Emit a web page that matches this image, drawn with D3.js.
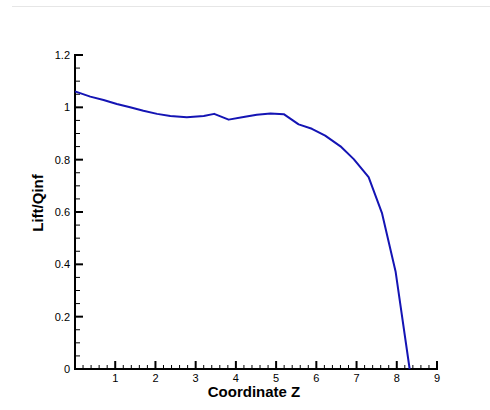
<!DOCTYPE html>
<html>
<head>
<meta charset="utf-8">
<script src="https://cdn.jsdelivr.net/npm/d3@7"></script>
<style>
    body { margin: 0; background: #fff; }
    svg { display: block; font-family: "Liberation Sans", Arial, sans-serif; }
</style>
</head>
<body>
<svg id="canvas" width="490" height="410"></svg>
<script>

// Spanwise lift distribution
const coordZ = [0, 0.38, 0.71, 1.04, 1.37, 1.70, 2.04, 2.37, 2.78, 3.20, 3.46, 3.82, 4.19,
                4.52, 4.86, 5.19, 5.56, 5.89, 6.22, 6.60, 6.93, 7.30, 7.63, 7.97, 8.32];
const liftQinf = [1.061, 1.041, 1.028, 1.013, 1.000, 0.987, 0.975, 0.967, 0.962, 0.967, 0.975, 0.953, 0.963,
                  0.972, 0.976, 0.974, 0.935, 0.918, 0.892, 0.851, 0.802, 0.733, 0.597, 0.373, 0.0];

const xMajor = [1, 2, 3, 4, 5, 6, 7, 8, 9];
const yMajor = [0, 0.2, 0.4, 0.6, 0.8, 1, 1.2];
const yLabels = ["0", "0.2", "0.4", "0.6", "0.8", "1", "1.2"];

const svg = d3.select("#canvas");

// Faint frame line at the top
svg.append("line")
    .attr("x1", 12).attr("x2", 490).attr("y1", 6.5).attr("y2", 6.5)
    .attr("stroke", "#e6e6e6");

const x = d3.scaleLinear().domain([0, 9]).range([75, 437]);
const y = d3.scaleLinear().domain([0, 1.2]).range([369, 55]);

// Minor ticks
const xMinor = d3.range(0, 45).map(i => i / 5).filter(v => !Number.isInteger(v) && v > 0);
const yMinor = d3.range(0, 25).map(i => i / 20).filter(v => Math.abs(v * 5 - Math.round(v * 5)) > 1e-6);

const axes = svg.append("g").attr("stroke", "#000");

axes.selectAll(".xminor").data(xMinor).enter().append("line")
    .attr("x1", d => x(d)).attr("x2", d => x(d))
    .attr("y1", 369).attr("y2", 365)
    .attr("stroke-width", 1);

axes.selectAll(".xmajor").data(xMajor).enter().append("line")
    .attr("x1", d => x(d)).attr("x2", d => x(d))
    .attr("y1", 369).attr("y2", 361)
    .attr("stroke-width", 2);

axes.selectAll(".yminor").data(yMinor).enter().append("line")
    .attr("x1", 75).attr("x2", 80)
    .attr("y1", d => y(d)).attr("y2", d => y(d))
    .attr("stroke-width", 1);

axes.selectAll(".ymajor").data(yMajor).enter().append("line")
    .attr("x1", 75).attr("x2", 83)
    .attr("y1", d => y(d)).attr("y2", d => y(d))
    .attr("stroke-width", 2);

// Axis lines
axes.append("line").attr("x1", 75).attr("x2", 75).attr("y1", 54).attr("y2", 370).attr("stroke-width", 2);
axes.append("line").attr("x1", 74).attr("x2", 438).attr("y1", 369).attr("y2", 369).attr("stroke-width", 2);

// Tick labels
svg.selectAll(".xlab").data(xMajor).enter().append("text")
    .attr("x", d => x(d)).attr("y", 382)
    .attr("text-anchor", "middle")
    .attr("font-size", 11)
    .text(d => d);

svg.selectAll(".ylab").data(yMajor).enter().append("text")
    .attr("x", 70).attr("y", d => y(d) + 4)
    .attr("text-anchor", "end")
    .attr("font-size", 11)
    .text((d, i) => yLabels[i]);

// Axis titles
svg.append("text")
    .attr("x", 254).attr("y", 397)
    .attr("text-anchor", "middle")
    .attr("font-size", 15).attr("font-weight", "bold")
    .text("Coordinate Z");

svg.append("text")
    .attr("transform", "translate(43,203) rotate(-90)")
    .attr("text-anchor", "middle")
    .attr("font-size", 15).attr("font-weight", "bold")
    .text("Lift/Qinf");

// Data line
const line = d3.line()
    .x((d, i) => x(coordZ[i]))
    .y(d => y(d));

svg.append("path")
    .datum(liftQinf)
    .attr("d", line)
    .attr("fill", "none")
    .attr("stroke", "#1414b4")
    .attr("stroke-width", 2)
    .attr("stroke-linejoin", "round");
</script>
</body>
</html>
